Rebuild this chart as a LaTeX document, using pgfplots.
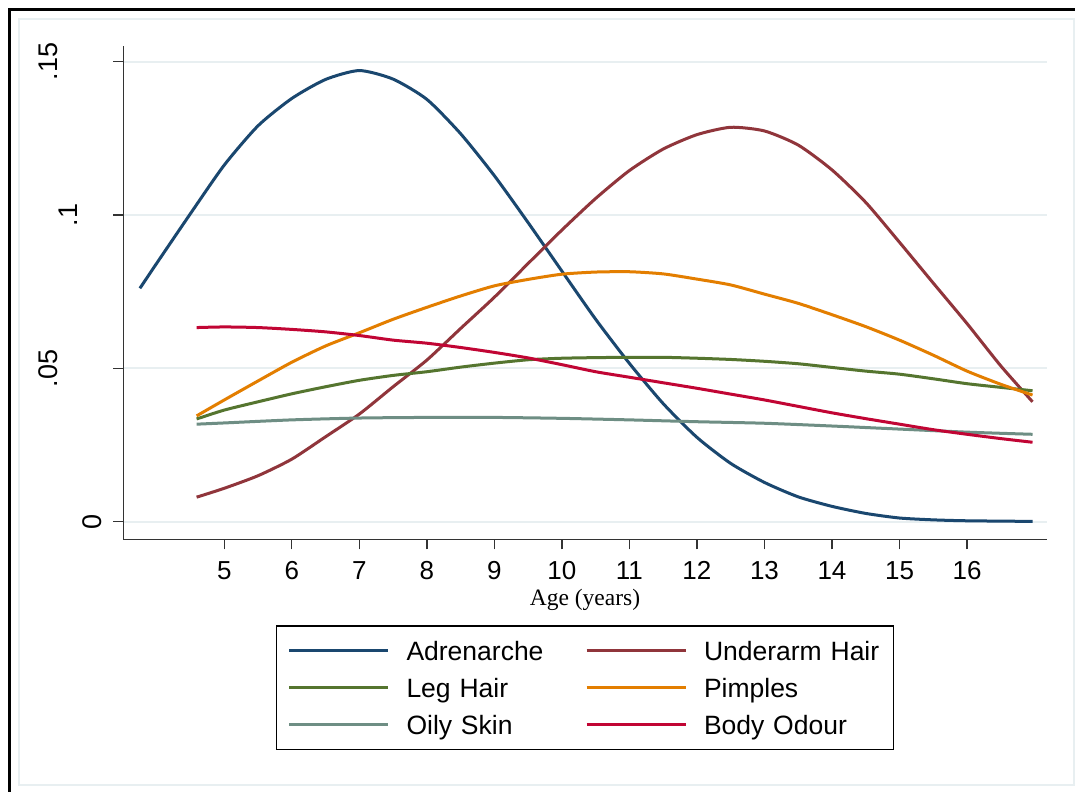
\documentclass[border=0pt]{standalone}
\usepackage{fontspec}
\setmainfont{Liberation Sans}
\newfontfamily\seriffont{Liberation Serif}
\usepackage{pgfplots}
\pgfplotsset{compat=1.18}
\definecolor{cnavy}{HTML}{1A476F}
\definecolor{cmaroon}{HTML}{90353B}
\definecolor{cgreen}{HTML}{55752F}
\definecolor{corange}{HTML}{E37E00}
\definecolor{cteal}{HTML}{6E8E84}
\definecolor{ccran}{HTML}{C10534}
\definecolor{gridc}{HTML}{E8EFF1}
\definecolor{axisc}{HTML}{333333}
\begin{document}
\begin{tikzpicture}
\path[use as bounding box] (0,0) rectangle (1075bp,-792bp);
\fill[white] (0,0) rectangle (1075bp,-792bp);
\draw[black, line width=3bp] (9bp,-792bp) -- (9bp,-9bp) -- (1075bp,-9bp);
\draw[gridc, line width=2bp] (19bp,-19bp) rectangle (1073.5bp,-785bp);
\begin{axis}[
  at={(123.3bp,-539.3bp)}, anchor=south west,
  scale only axis, width=923.4bp, height=493.3bp,
  xmin=3.504, xmax=17.18, ymin=-0.00574, ymax=0.1551,
  axis x line*=bottom, axis y line*=left,
  axis line style={line width=1.3bp, color=axisc},
  tick align=outside, major tick length=10bp,
  tick style={line width=1.3bp, color=axisc},
  xtick={5,6,7,8,9,10,11,12,13,14,15,16},
  xticklabels={5,6,7,8,9,10,11,12,13,14,15,16},
  ytick={0,0.05,0.1,0.15},
  yticklabels={0,\raisebox{44.5bp}{.05},\raisebox{24.5bp}{.1},\raisebox{44.5bp}{.15}},
  ymajorgrids, grid style={line width=2bp, color=gridc},
  xticklabel style={font=\fontsize{26bp}{30bp}\selectfont, anchor=base, yshift=-29.7bp},
  yticklabel style={font=\fontsize{27bp}{30bp}\selectfont, xshift=-11.8bp, rotate=90, anchor=base},
  xlabel={Age (years)},
  xlabel style={at={(axis description cs:0.5,0)}, anchor=base, yshift=-66.2bp, font=\seriffont\fontsize{23.5bp}{28bp}\selectfont},
  legend columns=2,
  legend cell align=left,
  legend style={at={(axis description cs:0.5,0)}, anchor=north, yshift=-86.7bp,
    draw=black, line width=1.2bp, inner xsep=11bp, inner ysep=14.3bp, outer sep=0pt,
    column sep=0bp, row sep=17.3bp, font=\fontsize{26.5bp}{30bp}\selectfont,
    nodes={inner sep=0bp, text width=178.5bp, text height=20bp, text depth=0bp}},
  legend image code/.code={\draw[#1, line width=3bp] (0bp,0bp) -- (99bp,0bp); \path (116bp,0bp);},
  every axis plot/.append style={line width=3bp, smooth, tension=0.4, no markers, line join=round},
]
\addplot[cnavy] table {
3.75 0.0761
4.0 0.0843
4.5 0.1005
5.0 0.1163
5.5 0.1291
6.0 0.1380
6.5 0.1442
7.0 0.1471
7.5 0.1443
8.0 0.1377
8.5 0.1265
9.0 0.1128
9.5 0.0975
10.0 0.0817
10.5 0.0660
11.0 0.0516
11.5 0.0385
12.0 0.0275
12.5 0.0190
13.0 0.0128
13.5 0.0081
14.0 0.0050
14.5 0.0027
15.0 0.0012
15.5 0.0006
16.0 0.0003
16.97 0.0001
};
\addlegendentry{Adrenarche}
\addplot[cmaroon] table {
4.59 0.0080
5.0 0.0109
5.5 0.0150
6.0 0.0204
6.5 0.0277
7.0 0.0351
7.5 0.0440
8.0 0.0527
8.5 0.0630
9.0 0.0732
9.5 0.0842
10.0 0.0951
10.5 0.1054
11.0 0.1145
11.5 0.1215
12.0 0.1262
12.5 0.1286
13.0 0.1274
13.5 0.1228
14.0 0.1147
14.5 0.1041
15.0 0.0911
15.5 0.0778
16.0 0.0646
16.5 0.0508
16.97 0.0391
};
\addlegendentry{Underarm Hair}
\addplot[cgreen] table {
4.59 0.0335
5.0 0.0364
5.5 0.0391
6.0 0.0417
6.5 0.0440
7.0 0.0461
7.5 0.0477
8.0 0.0489
8.5 0.0504
9.0 0.0517
9.5 0.0528
10.0 0.0533
10.5 0.0535
11.0 0.0536
11.5 0.0536
12.0 0.0533
12.5 0.0529
13.0 0.0523
13.5 0.0515
14.0 0.0503
14.5 0.0491
15.0 0.0481
15.5 0.0466
16.0 0.0450
16.5 0.0438
16.97 0.0427
};
\addlegendentry{Leg Hair}
\addplot[corange] table {
4.59 0.0345
5.0 0.0397
5.5 0.0459
6.0 0.0520
6.5 0.0573
7.0 0.0616
7.5 0.0660
8.0 0.0699
8.5 0.0736
9.0 0.0769
9.5 0.0790
10.0 0.0807
10.5 0.0814
11.0 0.0815
11.5 0.0808
12.0 0.0791
12.5 0.0772
13.0 0.0742
13.5 0.0712
14.0 0.0675
14.5 0.0636
15.0 0.0592
15.5 0.0543
16.0 0.0491
16.5 0.0448
16.97 0.0413
};
\addlegendentry{Pimples}
\addplot[cteal] table {
4.59 0.0318
5.0 0.0322
6.0 0.0332
7.0 0.0338
8.0 0.0340
9.0 0.0340
10.0 0.0337
11.0 0.0332
12.0 0.0326
13.0 0.0321
14.0 0.0312
15.0 0.0302
16.0 0.0292
16.97 0.0285
};
\addlegendentry{Oily Skin}
\addplot[ccran] table {
4.59 0.0633
5.0 0.0635
5.5 0.0633
6.0 0.0627
6.5 0.0619
7.0 0.0607
7.5 0.0592
8.0 0.0582
8.5 0.0568
9.0 0.0552
9.5 0.0534
10.0 0.0512
10.5 0.0489
11.0 0.0471
11.5 0.0453
12.0 0.0435
12.5 0.0416
13.0 0.0397
13.5 0.0376
14.0 0.0355
14.5 0.0336
15.0 0.0318
15.5 0.0300
16.0 0.0285
16.5 0.0271
16.97 0.0259
};
\addlegendentry{Body Odour}
\end{axis}
\end{tikzpicture}
\end{document}
